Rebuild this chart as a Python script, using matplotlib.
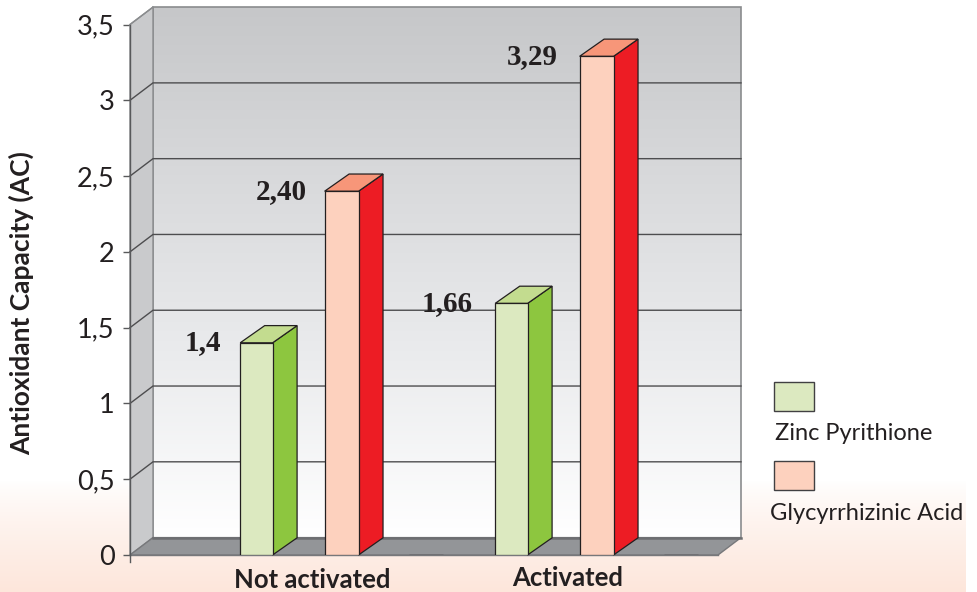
import numpy as np
import matplotlib
matplotlib.use("Agg")
import matplotlib.pyplot as plt
from matplotlib.colors import LinearSegmentedColormap
from matplotlib.patches import Polygon, Rectangle
from matplotlib.transforms import ScaledTranslation

plt.rcParams['font.family'] = ['Lato', 'DejaVu Sans']

# Data
categories = ["Not activated", "Activated"]
series_names = ["Zinc Pyrithione", "Glycyrrhizinic Acid"]
zinc_values = [1.4, 1.66]
glycyrrhizinic_values = [2.40, 3.29]
empty_series = [0, 0]
zinc_labels = ["1,4", "1,66"]
glycyrrhizinic_labels = ["2,40", "3,29"]
y_ticks = [0, 0.5, 1, 1.5, 2, 2.5, 3, 3.5]
y_tick_labels = ["0", "0,5", "1", "1,5", "2", "2,5", "3", "3,5"]

W, H = 977, 592
TEXT = "#231f20"
fig = plt.figure(figsize=(W / 100, H / 100), dpi=100, facecolor="white")

# Page tint fading in along the bottom edge
page = fig.add_axes([0, 0, 966 / W, 1], zorder=0)
page.axis("off")
page.imshow(np.clip((np.arange(592) - 480) / 112, 0, 1)[:, None] ** 0.8,
            aspect="auto", cmap=LinearSegmentedColormap.from_list("page", ["#ffffff", "#fde6db"]),
            vmin=0, vmax=1, extent=[0, 1, 0, 1], origin="upper")

# Plot box: value 0 on y=555 px, value 3.5 on y=24.5 px, floor front from x=130 to x=718 px
ax = fig.add_axes([130 / W, (H - 555) / H, 588 / W, 530.5 / H], zorder=1)
ax.patch.set_alpha(0)
px_per_group = 255.0
px_per_value = 530.5 / 3.5
x_min = -(300 - 130) / px_per_group
x_max = (718 - 300) / px_per_group

# 3D depth of the chart box and of the bars, in data units
depth_x = 23 / px_per_group
depth_y = 17.4 / px_per_value
bar_depth_x = 24.5 / px_per_group
bar_depth_y = 17.2 / px_per_value

# Back wall with vertical gradient
wall_cmap = LinearSegmentedColormap.from_list("wall", ["#c6c7c9", "#d9dadc", "#ebecee", "#ffffff"])
wall_left = x_min + depth_x
wall_right = x_max + depth_x
wall_bottom = depth_y
wall_top = 3.5 + depth_y
ax.imshow(np.linspace(0, 1, 256)[:, None], aspect="auto", cmap=wall_cmap,
          extent=[wall_left, wall_right, wall_bottom, wall_top], origin="upper",
          zorder=1, clip_on=False)
ax.set_xlim(x_min, x_max)
ax.set_ylim(0, 3.5)
ax.add_patch(Rectangle((wall_left, wall_bottom), wall_right - wall_left, wall_top - wall_bottom,
                       fill=False, ec="#8a8c8e", lw=1.2, zorder=2, clip_on=False))

# Left side wall
ax.add_patch(Polygon([(x_min, 0), (wall_left, depth_y), (wall_left, wall_top), (x_min, 3.5)],
                     closed=True, fc="#c9cacc", ec="#8a8c8e", lw=1.0, zorder=2, clip_on=False))

# Gridlines on back wall and side wall
for t in y_ticks[1:-1]:
    ax.plot([x_min, wall_left, wall_right], [t, t + depth_y, t + depth_y],
            color="#4d4d4f", lw=1.0, zorder=3, clip_on=False, solid_joinstyle="miter")
ax.plot([x_min, wall_left], [3.5, wall_top], color="#8a8c8e", lw=1.0, zorder=3, clip_on=False)

# Floor
ax.add_patch(Polygon([(x_min, 0), (wall_left, depth_y), (wall_right, depth_y), (x_max, 0)],
                     closed=True, fc="#939598", ec="#77787b", lw=1.0, zorder=3, clip_on=False))
ax.plot([wall_left, wall_right], [depth_y, depth_y], color="#6d6e71", lw=1.8, zorder=3, clip_on=False)
ax.plot([x_min, x_max], [0, 0], color="#77787b", lw=1.0, zorder=4, clip_on=False)


def draw_bars(values, centers, width, front, side, top):
    """Draw one series of 3D bars: front face plus side and top polygons."""
    ax.bar(centers, values, width=width, color=front, edgecolor="#231f20", linewidth=0.9, zorder=6)
    for c, v in zip(centers, values):
        right = c + width / 2
        left = c - width / 2
        ax.add_patch(Polygon([(right, 0), (right + bar_depth_x, bar_depth_y),
                              (right + bar_depth_x, v + bar_depth_y), (right, v)],
                             closed=True, fc=side, ec="#231f20", lw=0.9, zorder=5, clip_on=False))
        ax.add_patch(Polygon([(left, v), (left + bar_depth_x, v + bar_depth_y),
                              (right + bar_depth_x, v + bar_depth_y), (right, v)],
                             closed=True, fc=top, ec="#231f20", lw=0.9, zorder=5, clip_on=False))


groups = np.arange(len(categories))
draw_bars(zinc_values, groups - 0.171, 0.127, "#dce9c0", "#8dc63f", "#c3dc8f")
draw_bars(glycyrrhizinic_values, groups + 0.163, 0.133, "#fdd1be", "#ed1c24", "#f79679")
# Third slot holds no values and reads as a dark stub on the floor edge
ax.bar(groups + 0.494, empty_series, width=0.13, color="#414042", edgecolor="#414042",
       linewidth=1.0, zorder=5)

# Value labels sit just left of each bar, centred on the stated value
for g, (v, lab, off) in enumerate(zip(zinc_values, zinc_labels, [-54, -64])):
    ax.annotate(lab, (g - 0.171, v), xytext=(off, 0), textcoords="offset pixels", ha="center", va="center",
                fontsize=21, fontweight="bold", family=["Liberation Serif"], color=TEXT, zorder=8)
for g, (v, lab, off) in enumerate(zip(glycyrrhizinic_values, glycyrrhizinic_labels, [-60, -64])):
    ax.annotate(lab, (g + 0.163, v), xytext=(off, 0), textcoords="offset pixels", ha="center", va="center",
                fontsize=21, fontweight="bold", family=["Liberation Serif"], color=TEXT, zorder=8)

# Axes furniture
for name in ("top", "right", "bottom"):
    ax.spines[name].set_visible(False)
ax.spines["left"].set_color("#58595b")
ax.spines["left"].set_linewidth(1.0)
ax.spines["left"].set_zorder(4)
ax.set_yticks(y_ticks)
ax.set_yticklabels(y_tick_labels, fontsize=19.5, color=TEXT)
ax.tick_params(axis="y", length=5, width=1.0, color="#58595b", pad=6)

ax.set_xticks(groups + 0.05)
ax.set_xticklabels(categories, fontsize=18.5, fontweight="bold", color=TEXT)
ax.tick_params(axis="x", length=0, pad=9)
ax.get_xticklabels()[1].set_transform(
    ax.get_xticklabels()[1].get_transform() + ScaledTranslation(0, 2 / 100, fig.dpi_scale_trans))
ax.plot([x_min, x_min], [0, -7 / px_per_value], color="#58595b", lw=1.0, clip_on=False, zorder=4)

fig.text(21 / W, 1 - 303 / H, "Antioxidant Capacity (AC)", rotation=90, ha="center", va="center",
         fontsize=19, fontweight="bold", color=TEXT, zorder=5)

# Legend: swatches above their captions
legend_rows = [(382, 434, 775, "#dce9c0"), (461, 513, 770, "#fdd1be")]
for name, (sw_top, text_y, text_x, color) in zip(series_names, legend_rows):
    fig.add_artist(Rectangle((774 / W, 1 - (sw_top + 29) / H), 40 / W, 29 / H,
                             transform=fig.transFigure, fc=color, ec="#414042", lw=1.0, zorder=5))
    fig.text(text_x / W, 1 - text_y / H, name, ha="left", va="center", fontsize=17,
             color=TEXT, zorder=5)

fig.savefig("out.png", dpi=100, facecolor="white")
